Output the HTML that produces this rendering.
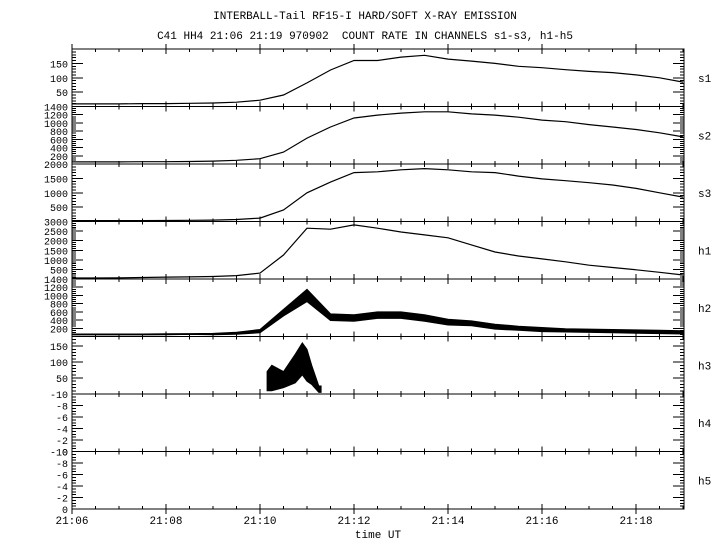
<!DOCTYPE html>
<html><head><meta charset="utf-8"><style>
html,body{margin:0;padding:0;background:#fff;width:720px;height:550px;overflow:hidden}
svg text{font-family:"Liberation Mono",monospace;fill:#000}
</style></head><body>
<svg id="c" width="720" height="550" viewBox="0 0 720 550" xmlns="http://www.w3.org/2000/svg">
<text x="365" y="19" font-size="11" text-anchor="middle">INTERBALL-Tail RF15-I HARD/SOFT X-RAY EMISSION</text>
<text x="365" y="39" font-size="11" text-anchor="middle">C41 HH4 21:06 21:19 970902&#160; COUNT RATE IN CHANNELS s1-s3, h1-h5</text>
<text x="378" y="538" font-size="11" text-anchor="middle">time UT</text>
</svg>
<script>
// time grid (minutes after 21:06), step 0.5
const times=[0,0.5,1,1.5,2,2.5,3,3.5,4,4.5,5,5.5,6,6.5,7,7.5,8,8.5,9,9.5,10,10.5,11,11.5,12,12.5,13];
const s1=[9,9,9,10,10,11,12,15,22,40,82,127,160,160,172,178,165,158,150,140,135,128,122,118,110,100,85];
const s2=[50,50,50,55,55,60,70,90,130,290,630,900,1120,1190,1240,1270,1270,1220,1190,1140,1070,1030,960,900,840,760,660];
const s3=[30,30,30,30,35,40,50,70,120,400,1000,1370,1700,1730,1800,1840,1800,1730,1700,1580,1480,1420,1350,1270,1150,1000,850];
const h1=[50,50,60,80,100,110,130,180,310,1250,2650,2600,2820,2650,2450,2300,2150,1780,1410,1200,1050,900,720,600,480,350,210];
const h2=[50,50,50,50,55,60,60,80,130,580,1000,470,450,520,520,450,350,320,240,200,170,150,140,130,120,110,100];
const h2Spread=[10,10,10,10,10,10,15,25,40,80,150,80,80,80,80,80,70,60,60,50,50,40,40,40,40,40,40];
const h3Times=[4.15,4.25,4.5,4.75,4.9,5.0,5.1,5.25,5.3];
const h3=[40,50,45,80,110,90,60,15,15];
const h3Spread=[30,40,25,45,50,50,30,10,10];
const xTickLabels=["21:06","21:08","21:10","21:12","21:14","21:16","21:18"];

const NS="http://www.w3.org/2000/svg", svg=document.getElementById('c');
const X0=72,X1=684,TMAX=13.02,TOP=49,PH=57.5;
const xs=t=>X0+t/TMAX*(X1-X0);
function el(tag,attrs,parent){const e=document.createElementNS(NS,tag);for(const k in attrs)e.setAttribute(k,attrs[k]);(parent||svg).appendChild(e);return e;}
const panels=[
 {n:'s1',min:0,max:200,labels:[50,100,150],minor:10},
 {n:'s2',min:0,max:1400,labels:[200,400,600,800,1000,1200,1400],minor:50},
 {n:'s3',min:0,max:2000,labels:[500,1000,1500,2000],minor:100},
 {n:'h1',min:0,max:3000,labels:[500,1000,1500,2000,2500,3000],minor:100},
 {n:'h2',min:0,max:1400,labels:[200,400,600,800,1000,1200,1400],minor:50},
 {n:'h3',min:0,max:180,labels:[50,100,150],minor:10},
 {n:'h4',min:-10,max:0,labels:[-10,-8,-6,-4,-2,0],minor:0.5,inv:true},
 {n:'h5',min:-10,max:0,labels:[-10,-8,-6,-4,-2,0],minor:0.5,inv:true}
];
panels.forEach((p,i)=>{
 const top=TOP+i*PH,bot=top+PH;
 p.y=v=>{let f=(v-p.min)/(p.max-p.min);if(p.inv)f=1-f;return bot-f*PH;};
 const g=el('g',{'shape-rendering':'crispEdges'});
 
 
 const r=el('rect',{x:X0,y:top,width:X1-X0,height:PH,fill:'none',stroke:'#000','stroke-width':1.3},g);
 
 
 for(let v=p.min;v<=p.max+1e-9;v+=p.minor){
  const y=p.y(v);const maj=p.labels.some(l=>Math.abs(l-v)<1e-6);
  const L=maj?11:4;
  el('line',{x1:X0,x2:X0+L,y1:y,y2:y,stroke:'#000'},g);
  el('line',{x1:X1,x2:X1-L,y1:y,y2:y,stroke:'#000'},g);
 }
 p.labels.forEach(l=>{
  const t=el('text',{x:68,y:p.y(l)+4,'font-size':10,'text-anchor':'end'});
  t.textContent=l;
  
  
 });
 for(let k=0;k<=26;k++){
  const x=xs(k*0.5);if(x>X1)break;const maj=k%4==0;const L=maj?5:3;
  el('line',{x1:x,x2:x,y1:top-(maj?5:0),y2:top+L,stroke:'#000'},g);
  el('line',{x1:x,x2:x,y1:bot-L,y2:bot+(maj?5:0),stroke:'#000'},g);
 }
 const nl=el('text',{x:698,y:top+PH/2+4,'font-size':11});
 nl.textContent=p.n;
 
 
});
xTickLabels.forEach((l,i)=>{
 const t=el('text',{x:xs(i*2),y:524,'font-size':11,'text-anchor':'middle'});
 t.textContent=l;
 
 
});
function line(p,tt,vals,name){
 const pts=tt.map((t,i)=>xs(t).toFixed(1)+','+p.y(vals[i]).toFixed(1)).join(' ');
 const e=el('polyline',{points:pts,fill:'none',stroke:'#000','stroke-width':1.2});
 
 
}
function band(p,tt,vals,sp,name){
 const up=tt.map((t,i)=>xs(t).toFixed(1)+','+p.y(vals[i]+sp[i]).toFixed(1));
 const dn=tt.map((t,i)=>xs(t).toFixed(1)+','+p.y(Math.max(p.min,vals[i]-sp[i])).toFixed(1)).reverse();
 const e=el('polygon',{points:up.concat(dn).join(' '),fill:'#000',stroke:'#000','stroke-width':1});
 
 
}
line(panels[0],times,s1,'series-s1');
line(panels[1],times,s2,'series-s2');
line(panels[2],times,s3,'series-s3');
line(panels[3],times,h1,'series-h1');
band(panels[4],times,h2,h2Spread,'series-h2');
band(panels[5],h3Times,h3,h3Spread,'series-h3');
</script>
</body></html>
